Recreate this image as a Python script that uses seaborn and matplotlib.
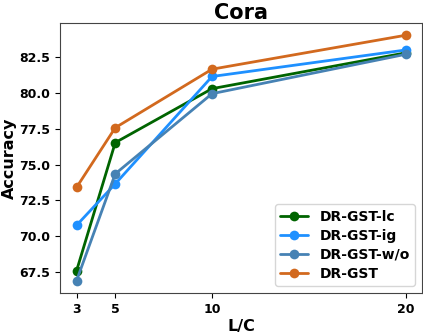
import pandas as pd
import seaborn as sns
import matplotlib
matplotlib.use('Agg')
import matplotlib.pyplot as plt

label_rate = [3, 5, 10, 20]
methods = ['DR-GST-lc', 'DR-GST-ig', 'DR-GST-w/o', 'DR-GST']
acc_lc = [67.57, 76.53, 80.30, 82.80]
acc_ig = [70.75, 73.65, 81.15, 83.00]
acc_wo = [66.88, 74.35, 79.95, 82.70]
acc_gst = [73.40, 77.57, 81.66, 84.03]
colors = ['darkgreen', 'dodgerblue', 'steelblue', 'chocolate']

rows = []
for name, vals in zip(methods, [acc_lc, acc_ig, acc_wo, acc_gst]):
    for x, y in zip(label_rate, vals):
        rows.append({'L/C': x, 'Accuracy': y, 'Method': name})
df = pd.DataFrame(rows)

sns.set_style("ticks")
plt.rcParams['font.family'] = ['DejaVu Sans']
plt.rcParams['font.weight'] = 'bold'
plt.rcParams['text.color'] = 'black'
plt.rcParams['axes.labelcolor'] = 'black'
plt.rcParams['xtick.color'] = 'black'
plt.rcParams['ytick.color'] = 'black'

fig, ax = plt.subplots(figsize=(4.23, 3.33), dpi=100)
fig.subplots_adjust(left=0.142, right=0.998, top=0.931, bottom=0.12)

sns.lineplot(data=df, x='L/C', y='Accuracy', hue='Method', hue_order=methods,
             palette=dict(zip(methods, colors)), marker='o', markersize=7,
             markeredgewidth=0, linewidth=2, ax=ax)

ax.set_xticks(label_rate)
ax.set_xticklabels([str(v) for v in label_rate], fontsize=9, fontweight='bold')
for t in ax.get_yticklabels():
    t.set_fontsize(9)
    t.set_fontweight('bold')
ax.set_xlabel('L/C', fontsize=11.5, fontweight='bold', labelpad=2)
ax.set_ylabel('Accuracy', fontsize=11.5, fontweight='bold', labelpad=2)
ax.set_title('Cora', fontsize=15, fontweight='bold', pad=3, color='black')
for s in ax.spines.values():
    s.set_color('#444444')

leg = ax.legend(loc='lower right', prop={'weight': 'bold', 'size': 10},
                handlelength=2, borderpad=0.4, labelspacing=0.35)
leg.set_title(None)

fig.savefig('out.png', dpi=100)
